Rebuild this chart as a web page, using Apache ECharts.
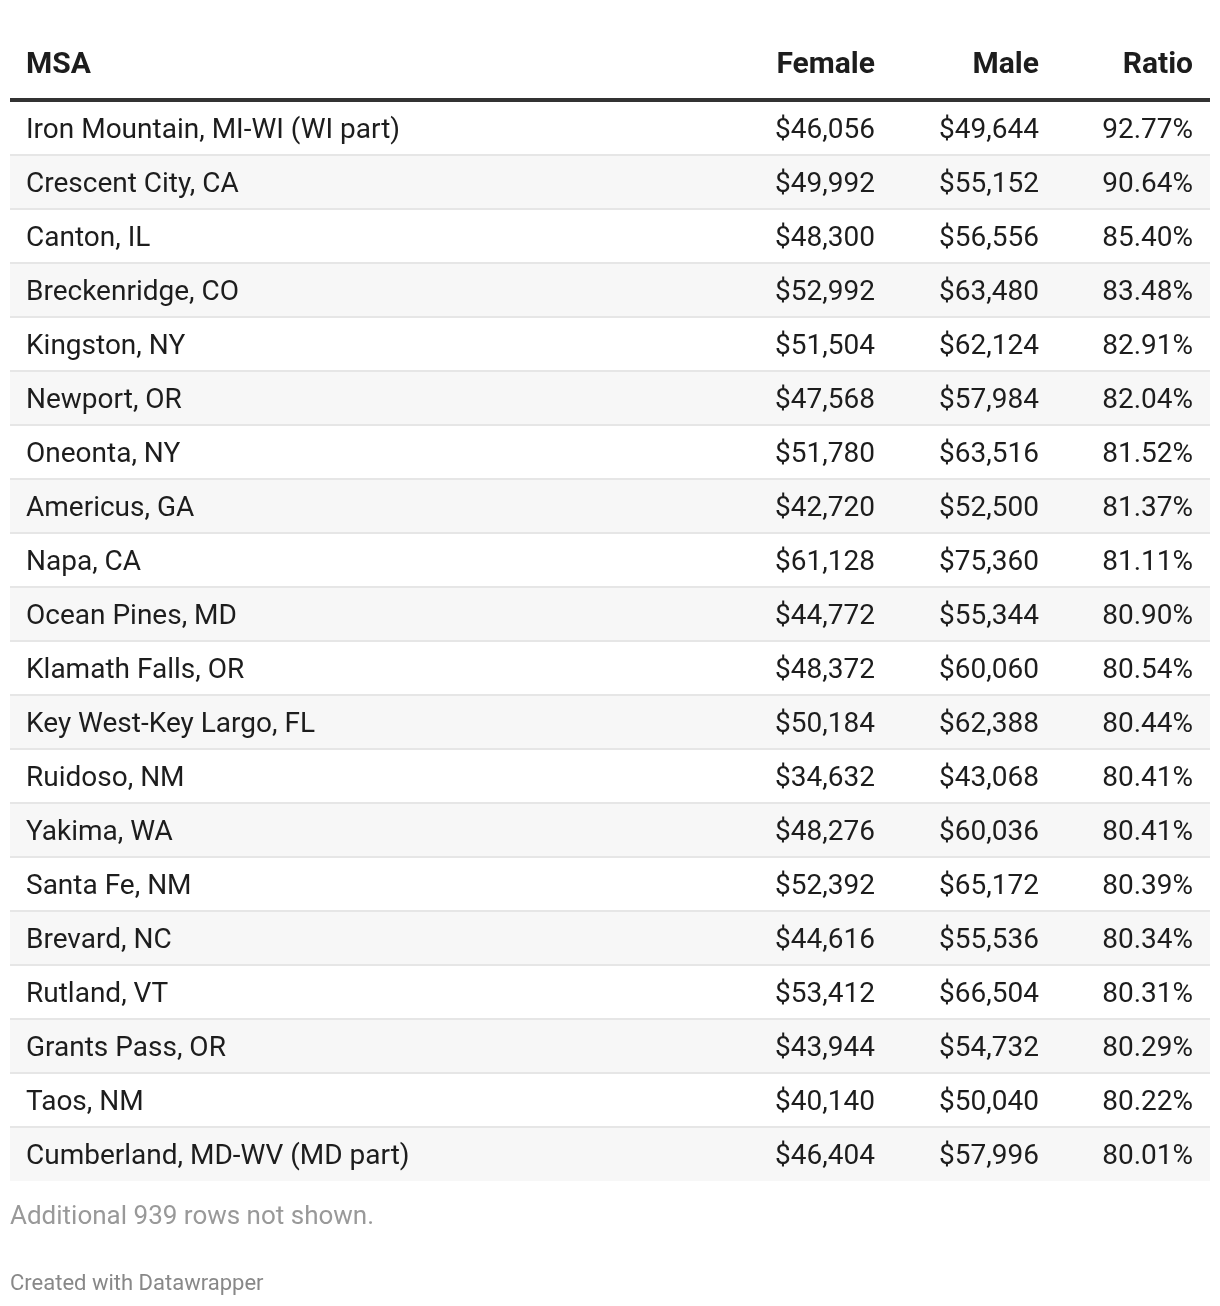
<!DOCTYPE html>
<html>
<head>
<meta charset="utf-8">
<script src="https://cdn.jsdelivr.net/npm/echarts@6/dist/echarts.min.js"></script>
<style>
    html, body { margin: 0; padding: 0; background: #fff; }
    #chart { width: 1220px; height: 1306px; }
</style>
</head>
<body>
<div id="chart"></div>
<script>
// table data
var msa = [
    'Iron Mountain, MI-WI (WI part)', 'Crescent City, CA', 'Canton, IL', 'Breckenridge, CO',
    'Kingston, NY', 'Newport, OR', 'Oneonta, NY', 'Americus, GA', 'Napa, CA', 'Ocean Pines, MD',
    'Klamath Falls, OR', 'Key West-Key Largo, FL', 'Ruidoso, NM', 'Yakima, WA', 'Santa Fe, NM',
    'Brevard, NC', 'Rutland, VT', 'Grants Pass, OR', 'Taos, NM', 'Cumberland, MD-WV (MD part)'
];
var female = [46056, 49992, 48300, 52992, 51504, 47568, 51780, 42720, 61128, 44772,
    48372, 50184, 34632, 48276, 52392, 44616, 53412, 43944, 40140, 46404];
var male = [49644, 55152, 56556, 63480, 62124, 57984, 63516, 52500, 75360, 55344,
    60060, 62388, 43068, 60036, 65172, 55536, 66504, 54732, 50040, 57996];
var ratio = [92.77, 90.64, 85.40, 83.48, 82.91, 82.04, 81.52, 81.37, 81.11, 80.90,
    80.54, 80.44, 80.41, 80.41, 80.39, 80.34, 80.31, 80.29, 80.22, 80.01];
var headers = ['MSA', 'Female', 'Male', 'Ratio'];
var note = 'Additional 939 rows not shown.';
var credit = 'Created with Datawrapper';

(function () {
    var FONT = 'Roboto, "Noto Sans", sans-serif';
    var INK = '#1d1d1d';
    // column anchors, offsets from the grid's left edge
    var colX = [16, 865, 1029, 1183];
    var colAlign = ['left', 'right', 'right', 'right'];

    function money(v) {
        return '$' + v.toLocaleString('en-US');
    }

    function cellText(x, y, text, align) {
        return {
            type: 'text',
            style: {
                x: x, y: y, text: text,
                textAlign: align, textVerticalAlign: 'middle',
                fontSize: 28, fontFamily: FONT, fill: INK
            }
        };
    }

    function renderRow(params, api) {
        var i = params.dataIndex;
        var c = api.coord([0, i]);
        var h = api.size([0, 1])[1];
        var cs = params.coordSys;
        var top = c[1] - h / 2;
        var kids = [];
        if (i % 2 === 1) {
            kids.push({type: 'rect', shape: {x: cs.x, y: top, width: cs.width, height: h},
                style: {fill: '#f7f7f7'}});
        }
        if (i > 0) {
            kids.push({type: 'rect', shape: {x: cs.x, y: top - 1, width: cs.width, height: 2},
                style: {fill: '#e6e6e6'}});
        }
        var vals = [msa[i], money(female[i]), money(male[i]), ratio[i].toFixed(2) + '%'];
        for (var k = 0; k < vals.length; k++) {
            kids.push(cellText(cs.x + colX[k], c[1] + 3, vals[k], colAlign[k]));
        }
        return {type: 'group', children: kids};
    }

    var headerTexts = headers.map(function (t, k) {
        return {
            type: 'text',
            x: 10 + colX[k], y: 65,
            style: {
                text: t, textAlign: colAlign[k], textVerticalAlign: 'middle',
                fontSize: 30, fontWeight: 'bold', fontFamily: FONT, fill: INK
            }
        };
    });

    var option = {
        animation: false,
        backgroundColor: '#fff',
        grid: {left: 10, right: 10, top: 101, bottom: 125},
        xAxis: {type: 'value', min: 0, max: 1, show: false},
        yAxis: {type: 'category', data: msa, inverse: true, show: false},
        graphic: headerTexts.concat([
            {type: 'rect', shape: {x: 10, y: 98, width: 1200, height: 4}, style: {fill: '#333'}},
            {type: 'text', x: 10, y: 1217,
                style: {text: note, textVerticalAlign: 'middle', fontSize: 26, fontFamily: FONT, fill: '#999'}},
            {type: 'text', x: 10, y: 1284,
                style: {text: credit, textVerticalAlign: 'middle', fontSize: 22, fontFamily: FONT, fill: '#888'}}
        ]),
        series: [{
            type: 'custom',
            clip: false,
            renderItem: renderRow,
            data: msa.map(function (m, i) { return [0, i]; })
        }]
    };

    var chart = echarts.init(document.getElementById('chart'));
    chart.setOption(option);
})();
</script>
</body>
</html>
